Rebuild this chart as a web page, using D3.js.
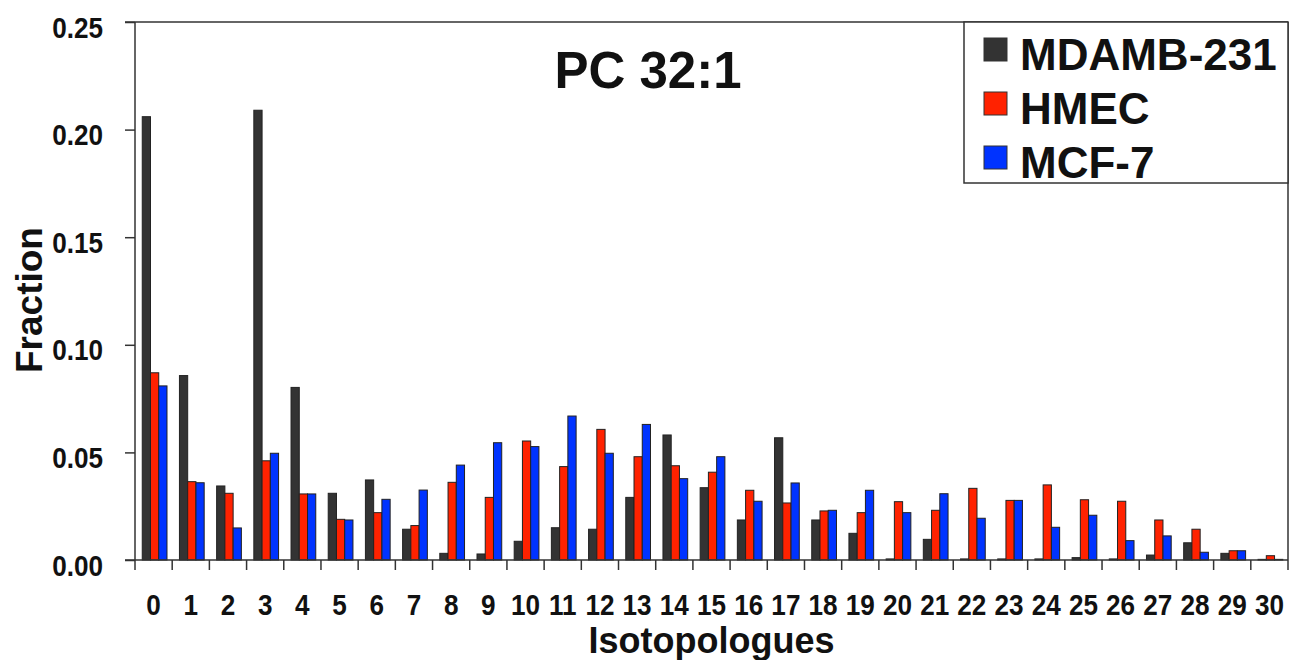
<!DOCTYPE html>
<html>
<head>
<meta charset="utf-8">
<script src="https://cdn.jsdelivr.net/npm/d3@7"></script>
<style>
  body { margin: 0; background: #fff; }
  text { font-family: "Liberation Sans", Arial, sans-serif; font-weight: bold; fill: #111; }
</style>
</head>
<body>
<svg width="1290" height="660"></svg>
<script>

var categories = d3.range(0, 31).map(String)

var series = ["MDAMB-231", "HMEC", "MCF-7"]

var mdamb = [0.206, 0.0857, 0.0344, 0.209, 0.0802, 0.031, 0.0372, 0.0143, 0.0031, 0.0028,
             0.0087, 0.015, 0.0143, 0.0291, 0.0581, 0.0336, 0.0186, 0.0568, 0.0186, 0.0124,
             0.0005, 0.0096, 0.0005, 0.0005, 0.0005, 0.0011, 0.0005, 0.0023, 0.008, 0.0031, 0.0003]

var hmec = [0.087, 0.0364, 0.031, 0.0461, 0.0307, 0.0189, 0.022, 0.016, 0.0361, 0.0291,
            0.0553, 0.0434, 0.0607, 0.048, 0.0438, 0.0408, 0.0324, 0.0265, 0.0228, 0.022,
            0.0271, 0.0231, 0.0333, 0.0277, 0.0349, 0.028, 0.0273, 0.0186, 0.0143, 0.0043, 0.002]

var mcf7 = [0.0809, 0.0359, 0.0149, 0.0496, 0.0307, 0.0186, 0.0282, 0.0325, 0.0441, 0.0545,
            0.0527, 0.0669, 0.0496, 0.063, 0.0378, 0.048, 0.0273, 0.0358, 0.0231, 0.0324,
            0.022, 0.0308, 0.0194, 0.0277, 0.0152, 0.0208, 0.009, 0.0112, 0.0036, 0.0043, 0.0003]

var yTicks = [0, 0.05, 0.10, 0.15, 0.20, 0.25]

var colors = ["#333333", "#ff2200", "#0033ff"]

var values = [mdamb, hmec, mcf7]

var svg = d3.select("svg")

// plot box (note: "top" is taken by window.top, so prefix these)
var pLeft = 135, pRight = 1288, pTop = 22, pBottom = 560

var x0 = d3.scaleBand().domain(categories).range([pLeft, pRight])
var bw = x0.bandwidth()
var x1 = d3.scaleBand().domain(series).range([0.195 * bw, 0.86 * bw])
var y = d3.scaleLinear().domain([0, 0.25]).range([pBottom, pTop])
var color = d3.scaleOrdinal().domain(series).range(colors)

// bars

var groups = svg.selectAll(".grp").data(categories)
  .enter().append("g")
    .attr("class", "grp")
    .attr("transform", function(d){ return "translate(" + x0(d) + ",0)"; })

groups.selectAll("rect")
  .data(function(d, i){ return series.map(function(s, j){ return {s: s, v: values[j][i]}; }); })
  .enter().append("rect")
    .attr("x", function(d){ return x1(d.s); })
    .attr("width", x1.bandwidth())
    .attr("y", function(d){ return y(d.v); })
    .attr("height", function(d){ return pBottom - y(d.v); })
    .style("fill", function(d){ return color(d.s); })
    .style("stroke", "#222")
    .style("stroke-width", 1)

// frame (top and right)

svg.append("line").attr("x1", pLeft - 10).attr("x2", pRight).attr("y1", pTop).attr("y2", pTop)
  .style("stroke", "#333").style("stroke-width", 1.5)
svg.append("line").attr("x1", pRight).attr("x2", pRight).attr("y1", pTop).attr("y2", pBottom + 10)
  .style("stroke", "#333").style("stroke-width", 1.5)

// y axis

var yAxis = svg.append("g")
  .attr("transform", "translate(" + pLeft + ",0)")
  .call(d3.axisLeft(y).tickValues(yTicks).tickSize(10).tickSizeOuter(0)
    .tickFormat(d3.format(".2f")))
yAxis.select(".domain").attr("d", "M0," + pTop + "V" + (pBottom + 10))
yAxis.selectAll("line, path").style("stroke", "#333").style("stroke-width", 1.5)
yAxis.selectAll("text")
  .attr("x", 0)
  .attr("dy", "0.5em")
  .attr("transform", "translate(-32,0) scale(0.87,1)")
  .style("font-size", "30px")
  .attr("font-family", null)

// x axis

var xAxis = svg.append("g")
  .attr("transform", "translate(0," + pBottom + ")")
  .call(d3.axisBottom(x0).tickSize(0).tickSizeOuter(0))
xAxis.select(".domain").attr("d", "M" + (pLeft - 10) + ",0H" + pRight)
xAxis.selectAll("path").style("stroke", "#333").style("stroke-width", 1.5)
xAxis.selectAll("text")
  .attr("y", 55)
  .attr("dy", null)
  .attr("transform", "scale(0.87,1)")
  .style("font-size", "30px")
  .attr("font-family", null)

// ticks at band boundaries
svg.selectAll(".xtick").data(categories.slice(1))
  .enter().append("line")
    .attr("class", "xtick")
    .attr("x1", function(d){ return x0(d); })
    .attr("x2", function(d){ return x0(d); })
    .attr("y1", pBottom)
    .attr("y2", pBottom + 10)
    .style("stroke", "#333")
    .style("stroke-width", 1.5)

// titles

svg.append("text")
  .attr("x", 648).attr("y", 88)
  .attr("text-anchor", "middle")
  .style("font-size", "51px")
  .text("PC 32:1")

svg.append("text")
  .attr("x", (pLeft + pRight) / 2).attr("y", 653)
  .attr("text-anchor", "middle")
  .style("font-size", "36px")
  .text("Isotopologues")

svg.append("text")
  .attr("transform", "translate(42,300) rotate(-90)")
  .attr("text-anchor", "middle")
  .style("font-size", "37px")
  .text("Fraction")

// legend

var legend = svg.append("g").attr("transform", "translate(964," + pTop + ")")

legend.append("rect")
  .attr("width", pRight - 964).attr("height", 161)
  .style("fill", "#fff").style("stroke", "#333").style("stroke-width", 1.5)

var items = legend.selectAll(".item").data(series)
  .enter().append("g")
    .attr("class", "item")
    .attr("transform", function(d, i){ return "translate(0," + (i * 54) + ")"; })

items.append("rect")
  .attr("x", 20).attr("y", 16)
  .attr("width", 23).attr("height", 23)
  .style("fill", function(d){ return color(d); })
  .style("stroke", "#333")

items.append("text")
  .attr("x", 56).attr("y", 48)
  .style("font-size", "44px")
  .text(function(d){ return d; })

</script>
</body>
</html>
